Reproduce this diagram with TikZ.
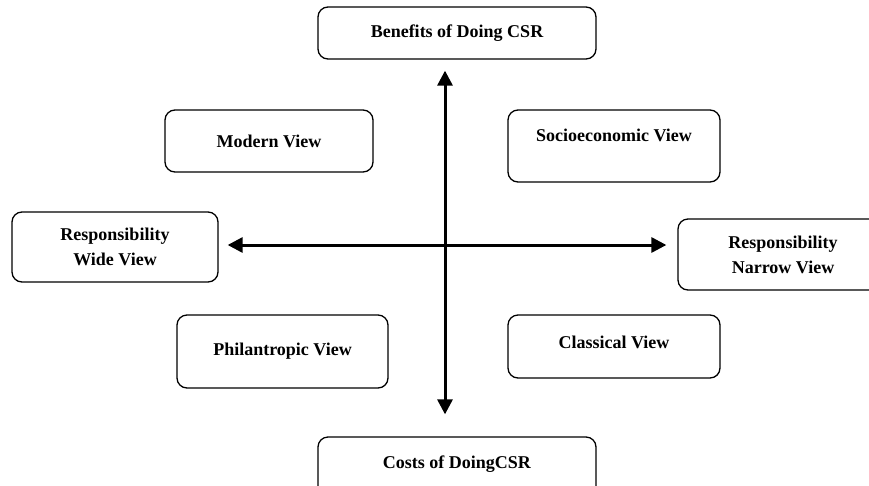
\documentclass[tikz,border=0pt]{standalone}
\usepackage{fontspec}
\setmainfont{Liberation Serif}
\usetikzlibrary{arrows.meta,positioning,calc}

\begin{document}
\begin{tikzpicture}[x=1pt,y=-1pt,
    viewbox/.style={draw,line width=1.3pt,rounded corners=10pt,align=center,
      font=\fontsize{18}{25}\selectfont\bfseries},
    axis/.style={line width=3pt,{Triangle[width=15pt,length=15pt]}-{Triangle[width=15pt,length=15pt]}}]
    \useasboundingbox (0,0) rectangle (869,485);
    \coordinate (centre) at (445,245);
    \node[viewbox,minimum width=278pt,minimum height=52pt,text depth=4pt] (benefits) at (457,33) {Benefits of Doing CSR};
    \node[viewbox,minimum width=278pt,minimum height=63pt,text depth=13pt] (costs) at (457,468.5) {Costs of DoingCSR};
    \node[viewbox,minimum width=208pt,minimum height=62pt] (modern) at (269,141) {Modern View};
    \node[viewbox,minimum width=212pt,minimum height=72pt,text depth=22pt] (socio) at (614,146) {Socioeconomic View};
    \node[viewbox,minimum width=206pt,minimum height=70pt] (wide) at (115,247) {Responsibility\\Wide View};
    \node[viewbox,minimum width=210pt,minimum height=71pt] (narrow) at (783,254.5) {Responsibility\\Narrow View};
    \node[viewbox,minimum width=211pt,minimum height=73pt] (phil) at (282.5,351.5) {Philantropic View};
    \node[viewbox,minimum width=212pt,minimum height=63pt,text depth=9pt] (classical) at (614,346.5) {Classical View};
    \draw[axis] ([yshift=-11pt]centre |- benefits.south) -- ([yshift=22pt]centre |- costs.north);
    \draw[axis] ([xshift=9pt]wide.east |- centre) -- ([xshift=-11pt]narrow.west |- centre);
  \end{tikzpicture}
\end{document}
